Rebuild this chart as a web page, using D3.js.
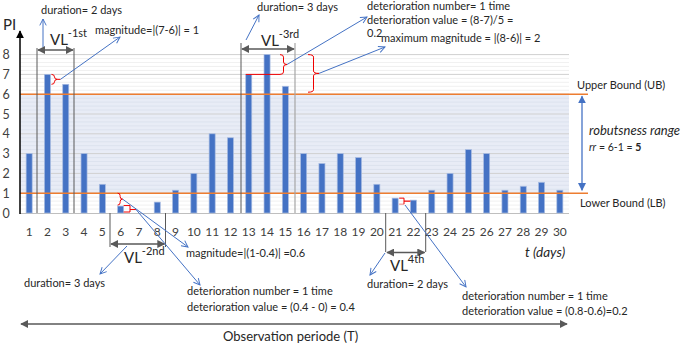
<!DOCTYPE html>
<html><head><meta charset="utf-8">
<script src="https://cdn.jsdelivr.net/npm/d3@7"></script>
<style>
body{margin:0;background:#fff}
svg{display:block}
text{font-family:Lato,"Liberation Sans",sans-serif;fill:#262626}
</style>
</head><body>
<svg id="c" width="685" height="346"></svg>
<script>
// ---- data ----
const days = [1,2,3,4,5,6,7,8,9,10,11,12,13,14,15,16,17,18,19,20,21,22,23,24,25,26,27,28,29,30];
const piValues = [3,7,6.5,3,1.45,0.35,0,0.55,1.15,2,4,3.8,7,8,6.4,3,2.5,3,2.8,1.45,0.75,0.65,1.15,2,3.2,3,1.15,1.35,1.55,1.15];
const yTicks = [0,1,2,3,4,5,6,7,8];
const upperBound = 6;
const lowerBound = 1;

const svg = d3.select("#c");
const x = d3.scaleBand().domain(days).range([20,569]).paddingInner(0.67).paddingOuter(0.335);
const y = d3.scaleLinear().domain([0,8]).range([213,54.6]);
const bw = x.bandwidth();
const cx = d => x(d) + bw/2;

// markers
const defs = svg.append("defs");
function filledMarker(id, color, size){
  defs.append("marker").attr("id",id).attr("markerUnits","userSpaceOnUse")
    .attr("viewBox","0 0 10 10").attr("refX",9).attr("refY",5)
    .attr("markerWidth",size).attr("markerHeight",size).attr("orient","auto-start-reverse")
    .append("path").attr("d","M0,0 L10,5 L0,10 z").attr("fill",color);
}
filledMarker("mBlack","#000",8);
filledMarker("mGray","#595959",8);
filledMarker("mBlue","#4472C4",8);
defs.append("marker").attr("id","mOpen").attr("markerUnits","userSpaceOnUse")
  .attr("viewBox","0 0 10 10").attr("refX",9).attr("refY",5)
  .attr("markerWidth",8).attr("markerHeight",8).attr("orient","auto")
  .append("path").attr("d","M1,1 L9,5 L1,9").attr("fill","none").attr("stroke","#4472C4").attr("stroke-width",1.2);

// robustness band
svg.append("rect").attr("x",20).attr("width",549)
  .attr("y",y(upperBound)).attr("height",y(lowerBound)-y(upperBound)).attr("fill","#E8ECF6");

// minor gridlines
const minor = d3.range(0,8.001,0.2).filter(v => Math.abs(v-Math.round(v))>1e-6);
svg.append("g").selectAll("line").data(minor).join("line")
  .attr("x1",20).attr("x2",569).attr("y1",d=>y(d)).attr("y2",d=>y(d))
  .attr("stroke",d => (d>lowerBound && d<upperBound) ? "#d9dfec" : "#ececec").attr("stroke-width",0.8);
// major gridlines
svg.append("g").selectAll("line").data(yTicks.filter(v=>v>0)).join("line")
  .attr("x1",20).attr("x2",569).attr("y1",d=>y(d)).attr("y2",d=>y(d))
  .attr("stroke","#d0d0d0").attr("stroke-width",1);
// x baseline
svg.append("line").attr("x1",20).attr("x2",569).attr("y1",y(0)+0.5).attr("y2",y(0)+0.5).attr("stroke","#bfbfbf");

// bars
svg.append("g").selectAll("rect").data(days).join("rect")
  .attr("x",d=>x(d)).attr("width",bw)
  .attr("y",(d,i)=>y(piValues[i])).attr("height",(d,i)=>y(0)-y(piValues[i]))
  .attr("fill","#4472C4").attr("stroke","#a8bce2").attr("stroke-width",0.7);

// bound lines
[upperBound,lowerBound].forEach(b=>{
  svg.append("line").attr("x1",20).attr("x2",588).attr("y1",y(b)).attr("y2",y(b))
    .attr("stroke","#ED7D31").attr("stroke-width",1.5);
});

// y axis
svg.append("line").attr("x1",20).attr("x2",20).attr("y1",y(0)+1).attr("y2",31)
  .attr("stroke","#000").attr("stroke-width",1.5).attr("marker-end","url(#mBlack)");
svg.append("g").selectAll("text").data(yTicks).join("text")
  .attr("x",6).attr("y",d=>y(d)+4.5).attr("text-anchor","middle")
  .attr("font-size",12.5).style("fill","#404040").text(d=>d);
svg.append("text").attr("x",3).attr("y",30).attr("font-size",15).text("PI");

// x labels
svg.append("g").selectAll("text").data(days).join("text")
  .attr("x",d=>cx(d)).attr("y",236).attr("text-anchor","middle")
  .attr("font-size",12).style("fill","#404040").text(d=>d);

// helpers
function line(x1,y1,x2,y2,color,w,marker){
  const l = svg.append("line").attr("x1",x1).attr("y1",y1).attr("x2",x2).attr("y2",y2)
    .attr("stroke",color).attr("stroke-width",w||1);
  if(marker){ l.attr("marker-end","url(#"+marker+")"); }
  return l;
}
function dbl(x1,y1,x2,y2,color,marker,w){
  line(x1,y1,x2,y2,color,w||1.3).attr("marker-end","url(#"+marker+")").attr("marker-start","url(#"+marker+")");
}
function txt(xp,yp,s,size,opts){
  const t = svg.append("text").attr("x",xp).attr("y",yp).attr("font-size",size).text(s);
  if(opts&&opts.italic) t.attr("font-style","italic");
  if(opts&&opts.anchor) t.attr("text-anchor",opts.anchor);
  return t;
}
function vlLabel(xp,yp,sup){
  const t = svg.append("text").attr("x",xp).attr("y",yp).attr("font-size",15);
  t.append("tspan").text("VL");
  t.append("tspan").attr("dy",-8).attr("font-size",11).text(sup);
}
function brace(x0,y1,y2,w){
  const xm = x0 + w*0.5, ym=(y1+y2)/2, r=Math.min(2.5,(y2-y1)/4);
  const d = `M${x0},${y1} Q${xm},${y1} ${xm},${y1+r} L${xm},${ym-r} Q${xm},${ym} ${x0+w},${ym} Q${xm},${ym} ${xm},${ym+r} L${xm},${y2-r} Q${xm},${y2} ${x0},${y2}`;
  svg.append("path").attr("d",d).attr("fill","none").attr("stroke","#F00000").attr("stroke-width",1);
  return [x0+w,ym];
}

const sz = 11;

// ---- VL-1st ----
line(37,48,37,y(0),"#595959",1);
line(74,48,74,y(0),"#595959",1);
dbl(38,50,73,50,"#595959","mGray",1.3);
vlLabel(50,45,"-1st");
line(43,47,43,19,"#4472C4",1,"mOpen");
txt(41,14,"duration= 2 days",sz);
let p = brace(cx(2)+bw/2+1, y(7), y(6.5), 6);
line(p[0],p[1],p[0]+3,p[1],"#F00000",1);
line(p[0]+3,p[1],120,37,"#4472C4",1,"mOpen");
txt(95,34,"magnitude=|(7-6)| = 1",sz);

// ---- VL-3rd ----
line(241,43,241,y(0),"#595959",1);
line(295,43,295,y(0),"#a6a6a6",1.2);
dbl(242,49,294,49,"#595959","mGray",1.3);
vlLabel(261,46,"-3rd");
line(246,40,259,15,"#4472C4",1,"mOpen");
txt(257,11,"duration= 3 days",sz);
line(cx(13)-bw/2,y(7),280,y(7),"#F00000",1);
p = brace(280, y(8), y(7), 7);
line(p[0],p[1],367,17,"#4472C4",1,"mOpen");
p = brace(308, y(8), y(upperBound)-2, 11);
line(p[0],p[1],385,47,"#4472C4",1,"mOpen");
txt(367,10,"deterioration number= 1 time",sz);
txt(367,23.5,"deterioration value = (8-7)/5 =",sz);
txt(367,37,"0.2",sz);
txt(381,42,"maximum magnitude = |(8-6)| = 2",sz);

// ---- right side ----
txt(577,89,"Upper Bound (UB)",sz);
txt(580,207,"Lower Bound (LB)",sz);
dbl(582,y(upperBound)+2,582,y(lowerBound)-3,"#4472C4","mBlue",1.3);
txt(589,135,"robutsness range",13,{italic:true});
const rr = svg.append("text").attr("x",589).attr("y",151).attr("font-size",10.5);
rr.append("tspan").attr("font-style","italic").text("rr");
rr.append("tspan").text(" = 6-1 = ");
rr.append("tspan").attr("font-weight","bold").text("5");

// ---- VL-2nd ----
line(110,y(0),110,247,"#595959",1);
line(165.5,y(0),165.5,247,"#595959",1);
dbl(111,244,164.5,244,"#595959","mGray",1.3);
vlLabel(124,263,"-2nd");
p = brace(cx(6)-bw/2, y(lowerBound), y(0.35)-1, 5);
line(p[0],p[1],188,247,"#4472C4",1,"mOpen");
line(cx(6)+bw/2,y(0.35)-0.5,130,y(0.35)-0.5,"#F00000",1);
line(cx(6)+bw/2,y(0)-1,130,y(0)-1,"#F00000",1);
line(130,y(0.35)-0.5,130,y(0)-1,"#F00000",1);
line(130,(y(0.35)+y(0))/2,136,(y(0.35)+y(0))/2,"#F00000",1);
line(136,(y(0.35)+y(0))/2,200,285,"#4472C4",1,"mOpen");
line(127,246,100,274,"#4472C4",1,"mOpen");
txt(24,287,"duration= 3 days",sz);
txt(186,257,"magnitude=|(1-0.4)| =0.6",sz);
txt(187,295,"deterioration number = 1 time",sz);
txt(187,311,"deterioration value = (0.4 - 0) = 0.4",sz);

// ---- VL-4th ----
line(385.7,y(0),385.7,252,"#595959",1);
line(425.7,y(0),425.7,252,"#595959",1);
dbl(387,252.5,424.5,252.5,"#595959","mGray",1.3);
vlLabel(390,271,"4th");
line(385,253,370,275,"#4472C4",1,"mOpen");
txt(367,288,"duration= 2 days",sz);
const bx = cx(21)+bw/2+1, bx2 = 404;
line(bx,y(0.75),bx2,y(0.75),"#F00000",1);
line(bx,y(0.65)+4,bx2,y(0.65)+4,"#F08080",1);
line(bx2,y(0.75),bx2,y(0.65)+4,"#F00000",1);
line(bx2,(y(0.75)+y(0.65)+4)/2,cx(22)-bw/2,(y(0.75)+y(0.65)+4)/2,"#F00000",1.2);
line(405,205,466,287,"#4472C4",1,"mOpen");
txt(462,300,"deterioration number = 1 time",sz);
txt(462,315,"deterioration value = (0.8-0.6)=0.2",sz);

// ---- t axis label and observation period ----
txt(525,257,"t (days)",13.5,{italic:true});
dbl(21,324,567,324,"#595959","mGray",1.5);
txt(223,341,"Observation periode (T)",13);
</script>
</body></html>
